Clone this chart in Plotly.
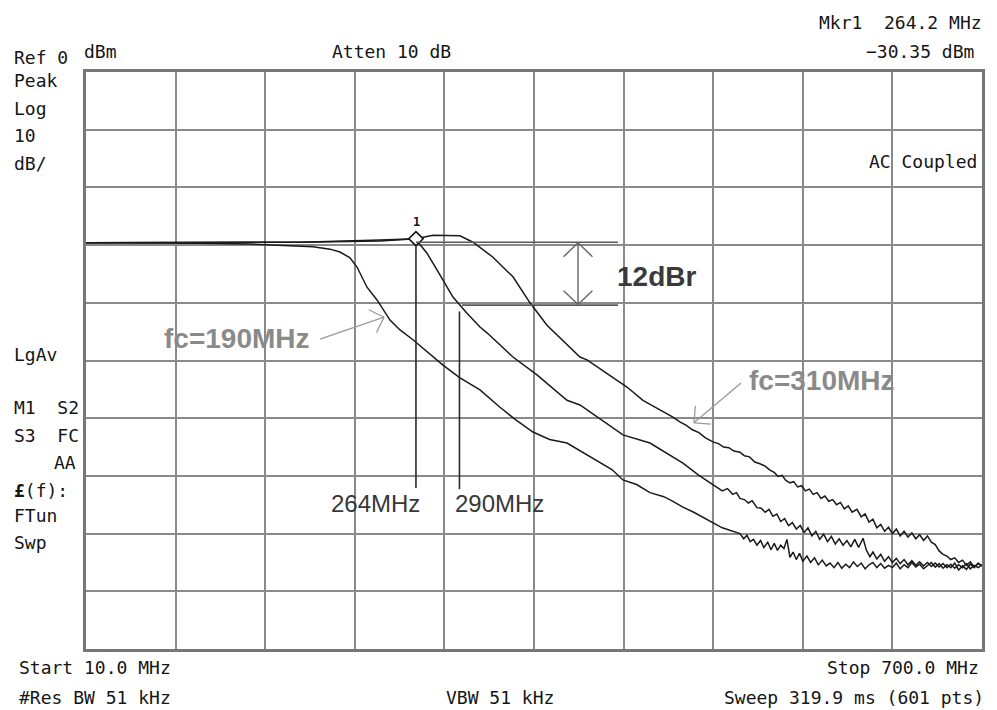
import math
import plotly.graph_objects as go

# ---------------- data (MHz, dBm) ----------------
freq_fc190 = [10.0, 59.3, 97.8, 136.3, 159.4, 184.8, 197.9, 205.6, 213.3, 218.7, 226.4, 234.1,
              244.1, 251.8, 261.8, 277.2, 284.9, 298.0, 313.4, 328.8, 341.0, 354.2, 367.0, 380.4,
              393.0, 405.8, 415.0, 423.5, 434.0, 444.3, 455.0, 462.0, 469.7, 478.0, 488.2, 500.0,
              513.6, 516.5, 519.0, 521.5, 524.0, 526.7, 529.5, 532.0, 535.0, 537.5, 540.0, 542.5,
              545.0, 547.5, 549.8, 552.1, 554.5, 557.0, 559.5, 562.0, 565.2, 568.0, 571.0, 574.0,
              577.0, 580.0, 583.0, 586.0, 589.0, 592.0, 595.0, 598.0, 601.0, 604.0, 607.0, 610.0,
              613.0, 616.0, 619.0, 622.0, 625.0, 628.0, 631.0, 634.0, 637.0, 640.0, 643.0, 646.0,
              649.0, 652.0, 655.0, 658.0, 661.0, 664.0, 667.0, 670.0, 673.0, 676.0, 679.0, 682.0,
              685.0, 688.0, 691.0, 694.0, 697.0, 700.0]
dbm_fc190 = [-29.6, -29.6, -29.7, -29.8, -30.0, -30.3, -30.7, -31.2, -32.2, -33.8, -37.3, -39.5,
             -43.0, -44.7, -46.4, -49.4, -50.8, -53.0, -55.1, -58.1, -60.3, -62.4, -63.7, -64.3,
             -66.0, -67.6, -68.9, -70.7, -71.5, -72.9, -73.6, -74.4, -75.4, -76.3, -77.6, -79.0,
             -80.0, -80.9, -80.3, -81.4, -81.0, -82.0, -81.2, -82.4, -81.5, -82.8, -81.7, -82.9,
             -82.0, -82.6, -81.0, -84.1, -83.2, -84.5, -83.4, -84.8, -83.9, -85.0, -84.2, -85.4,
             -84.6, -85.6, -85.1, -85.9, -85.0, -86.0, -85.3, -85.9, -84.9, -85.7, -85.1, -86.1,
             -85.4, -85.0, -85.9, -85.2, -86.0, -85.5, -85.9, -85.1, -86.1, -85.4, -85.9, -85.0,
             -85.8, -85.3, -86.1, -85.5, -85.0, -85.8, -85.2, -86.0, -85.4, -85.9, -85.1, -86.3,
             -85.6, -86.2, -85.3, -85.9, -85.1, -85.6]

freq_fc264 = [10.0, 97.8, 174.8, 236.4, 264.1, 267.2, 272.6, 280.3, 292.6, 303.4, 313.4, 318.8,
              328.8, 338.8, 357.3, 380.4, 390.4, 405.8, 423.5, 444.3, 469.7, 482.0, 495.9, 500.0,
              504.0, 508.0, 511.0, 513.6, 517.0, 520.0, 523.0, 526.7, 530.0, 533.0, 536.0, 539.0,
              542.0, 545.0, 548.0, 551.0, 554.0, 557.0, 560.0, 563.0, 566.0, 569.0, 572.0, 575.0,
              578.0, 581.0, 584.0, 587.0, 590.0, 593.0, 596.0, 599.0, 602.0, 605.0, 608.4, 611.0,
              613.7, 616.0, 619.0, 622.0, 625.0, 628.0, 631.0, 634.0, 637.0, 640.0, 643.0, 646.0,
              649.0, 652.0, 655.0, 658.0, 661.0, 664.0, 667.0, 670.0, 673.0, 676.0, 679.0, 682.0,
              685.0, 688.0, 691.0, 694.0, 697.0, 700.0]
dbm_fc264 = [-29.6, -29.6, -29.5, -29.3, -28.9, -29.9, -31.4, -34.3, -39.0, -41.8, -44.2, -45.2,
             -47.3, -49.4, -52.5, -56.9, -57.7, -60.1, -62.9, -64.3, -67.8, -69.9, -71.9, -72.6,
             -72.2, -73.2, -72.9, -73.9, -74.1, -74.7, -74.3, -75.5, -75.6, -76.3, -75.8, -77.0,
             -76.6, -77.9, -77.4, -78.6, -78.1, -79.2, -78.6, -79.8, -79.0, -80.4, -79.6, -81.0,
             -80.1, -81.4, -80.5, -81.8, -80.9, -82.0, -81.2, -82.3, -81.0, -82.4, -80.8, -82.9,
             -84.0, -83.2, -84.4, -83.6, -84.8, -84.0, -85.0, -84.3, -85.2, -84.5, -85.4, -84.7,
             -85.5, -84.9, -85.6, -85.0, -85.7, -85.1, -85.8, -85.2, -85.9, -85.3, -86.0, -85.4,
             -85.9, -85.2, -86.1, -85.5, -85.9, -85.4]

freq_fc310 = [10.0, 97.8, 174.8, 236.4, 264.1, 277.2, 298.0, 308.0, 323.4, 338.8, 351.9, 365.0,
              390.4, 395.8, 426.6, 438.9, 450.0, 462.0, 467.0, 472.0, 477.0, 482.0, 487.0, 492.8,
              497.0, 501.0, 505.0, 509.0, 513.6, 517.0, 521.0, 525.0, 529.0, 533.0, 536.7, 540.0,
              543.0, 546.0, 549.0, 552.1, 555.0, 558.0, 561.0, 564.0, 567.0, 570.0, 573.0, 576.0,
              579.0, 582.0, 585.0, 588.0, 591.0, 594.0, 597.0, 600.0, 603.7, 607.0, 610.0, 613.0,
              616.0, 619.0, 622.0, 625.0, 628.0, 631.0, 634.0, 637.0, 640.0, 643.0, 646.0, 649.0,
              652.0, 655.0, 658.0, 661.0, 664.0, 667.0, 670.0, 673.0, 676.0, 679.0, 682.0, 685.0,
              688.0, 691.0, 694.0, 697.0, 700.0]
dbm_fc310 = [-29.6, -29.6, -29.5, -29.1, -28.9, -28.3, -28.4, -29.5, -32.1, -35.5, -40.0, -43.9,
             -49.4, -49.9, -54.6, -56.9, -58.3, -59.8, -60.6, -61.2, -62.0, -62.5, -63.4, -64.1,
             -64.4, -65.0, -65.1, -65.7, -65.9, -66.5, -66.7, -67.6, -67.9, -68.3, -69.0, -69.4,
             -70.1, -69.9, -70.8, -71.2, -71.0, -71.9, -71.7, -72.6, -72.3, -73.2, -72.9, -73.9,
             -73.5, -74.4, -74.1, -75.0, -74.6, -75.7, -75.2, -76.3, -75.8, -77.1, -76.6, -78.0,
             -77.5, -79.0, -78.4, -79.6, -78.9, -80.0, -79.2, -80.4, -79.6, -80.6, -79.9, -80.9,
             -80.2, -81.2, -80.4, -81.5, -81.9, -83.0, -83.6, -83.9, -84.5, -84.2, -85.0, -84.6,
             -85.5, -84.9, -85.8, -85.2, -85.6]

# marker / annotation values (MHz, dBm)
marker_freq = 264.1
marker_dbm = -28.9
line264_freq = 264.1
line264_bottom = -72.1
line290_freq = 297.6
line290_top = -41.5
line290_bottom = -72.3
ref_level = -29.5
ref_minus12 = -40.4
ref_line_start = 264.1
low_line_start = 299.6
ref_line_end = 419.7
dbr_arrow_freq = 388.9
fc190_arrow = [(190.2, -46.3), (239.5, -42.5)]
fc310_arrow = [(514.4, -53.9), (478.2, -60.8)]

X0, X1 = 10.0, 700.0
Y0, Y1 = -100.0, 0.0

# plot area in pixels
L, R, T, B = 86, 982, 72, 649
W, H = 997, 710
PX_PER_MHZ = (R - L) / (X1 - X0)
PX_PER_DB = (B - T) / (Y1 - Y0)

fig = go.Figure()
for f, d in [(freq_fc190, dbm_fc190), (freq_fc264, dbm_fc264), (freq_fc310, dbm_fc310)]:
    fig.add_trace(go.Scatter(x=f, y=d, mode="lines", line=dict(color="#1a1a1a", width=1.5),
                             hoverinfo="skip"))

fig.add_trace(go.Scatter(x=[marker_freq], y=[marker_dbm], mode="markers",
                         marker=dict(symbol="diamond", size=11, color="white",
                                     line=dict(color="#111", width=1.6)),
                         hoverinfo="skip"))

shapes = []


def seg(x0, y0, x1, y1, color="#333", width=1.5):
    shapes.append(dict(type="line", xref="x", yref="y", x0=x0, y0=y0, x1=x1, y1=y1,
                       line=dict(color=color, width=width), layer="above"))


def chevron(hx, hy, tx, ty, length, color, width, ang=45):
    # direction from head back to tail in pixel space (y downward)
    dx = (tx - hx) * PX_PER_MHZ
    dy = -(ty - hy) * PX_PER_DB
    n = math.hypot(dx, dy)
    ux, uy = dx / n, dy / n
    for s in (1, -1):
        a = math.radians(ang * s)
        wx = ux * math.cos(a) - uy * math.sin(a)
        wy = ux * math.sin(a) + uy * math.cos(a)
        ex = hx + wx * length / PX_PER_MHZ
        ey = hy - wy * length / PX_PER_DB
        seg(hx, hy, ex, ey, color, width)


# marker lines
seg(line264_freq, marker_dbm - 0.9, line264_freq, line264_bottom, "#2a2a2a", 1.6)
seg(line290_freq, line290_top, line290_freq, line290_bottom, "#2a2a2a", 1.6)
# 12 dBr reference lines
seg(ref_line_start, ref_level, ref_line_end, ref_level, "#5a5a5a", 1.6)
seg(low_line_start, ref_minus12, ref_line_end, ref_minus12, "#5a5a5a", 1.6)
# double arrow
seg(dbr_arrow_freq, ref_level - 0.1, dbr_arrow_freq, ref_minus12 + 0.1, "#666", 1.4)
chevron(dbr_arrow_freq, ref_level - 0.1, dbr_arrow_freq, ref_minus12, 20, "#666", 1.4, 46)
chevron(dbr_arrow_freq, ref_minus12 + 0.1, dbr_arrow_freq, ref_level, 20, "#666", 1.4, 46)
# fc arrows
for (tx, ty), (hx, hy) in [fc190_arrow, fc310_arrow]:
    seg(tx, ty, hx, hy, "#9a9a9a", 1.3)
    chevron(hx, hy, tx, ty, 17, "#9a9a9a", 1.3, 45)

ann = []


def ptxt(text, px, py, anchor="left", size=18, color="#151515", family="DejaVu Sans Mono",
         bold=False):
    ann.append(dict(text=("<b>%s</b>" % text) if bold else text,
                    xref="paper", yref="paper",
                    x=(px - L) / (R - L), y=(B - py) / (B - T),
                    xanchor=anchor, yanchor="middle", showarrow=False,
                    font=dict(family=family, size=size, color=color)))


screen_left = [("Ref 0", 57), ("Peak", 81), ("Log", 108), ("10", 136), ("dB/", 163),
               ("LgAv", 354), ("M1  S2", 407), ("S3  FC", 435), ("FTun", 515), ("Swp", 542)]
for t, y in screen_left:
    ptxt(t, 12, y)
ptxt("AA", 78, 462, anchor="right")
ptxt("<b>£</b>(f):", 12, 490)
ptxt("dBm", 82, 51)
ptxt("Atten 10 dB", 330, 51)
ptxt("Mkr1  264.2 MHz", 984, 22, anchor="right")
ptxt("−30.35 dBm", 976, 51, anchor="right")
ptxt("AC Coupled", 979, 161, anchor="right")
ptxt("Start 10.0 MHz", 17, 667)
ptxt("#Res BW 51 kHz", 17, 697)
ptxt("VBW 51 kHz", 500, 697, anchor="center")
ptxt("Stop 700.0 MHz", 981, 667, anchor="right")
ptxt("Sweep 319.9 ms (601 pts)", 986, 697, anchor="right")
ptxt("1", 416, 222, anchor="center", size=12, bold=True)

ARIAL = "Liberation Sans, Arial"
ptxt("fc=190MHz", 237, 338, anchor="center", size=28, color="#8a8a8a", family=ARIAL, bold=True)
ptxt("fc=310MHz", 822, 381, anchor="center", size=28, color="#8a8a8a", family=ARIAL, bold=True)
ptxt("12dBr", 656, 276, anchor="center", size=28, color="#3a3a3a", family=ARIAL, bold=True)
ptxt("264MHz", 375, 503, anchor="center", size=24, color="#383838", family=ARIAL)
ptxt("290MHz", 499, 503, anchor="center", size=24, color="#383838", family=ARIAL)

axis_common = dict(showgrid=True, gridcolor="#8a8a8a", gridwidth=1.7, showticklabels=False,
                   ticks="", zeroline=False, showline=True, linecolor="#777777", linewidth=2.5,
                   mirror=True, fixedrange=True)

fig.update_layout(
    width=W, height=H,
    margin=dict(l=L, r=W - R, t=T, b=H - B, pad=0),
    paper_bgcolor="white", plot_bgcolor="white",
    showlegend=False,
    xaxis=dict(range=[X0, X1], tick0=X0, dtick=69, **axis_common),
    yaxis=dict(range=[Y0, Y1], tick0=Y0, dtick=10, **axis_common),
    shapes=shapes, annotations=ann,
)

fig.write_html("out.html", config={"displayModeBar": False})

# remove the default page margin so the figure sits at the window's top-left corner
with open("out.html", "r", encoding="utf-8") as fh:
    html = fh.read()
html = html.replace("<head>", "<head><style>html,body{margin:0;padding:0;overflow:hidden;}</style>", 1)
with open("out.html", "w", encoding="utf-8") as fh:
    fh.write(html)
